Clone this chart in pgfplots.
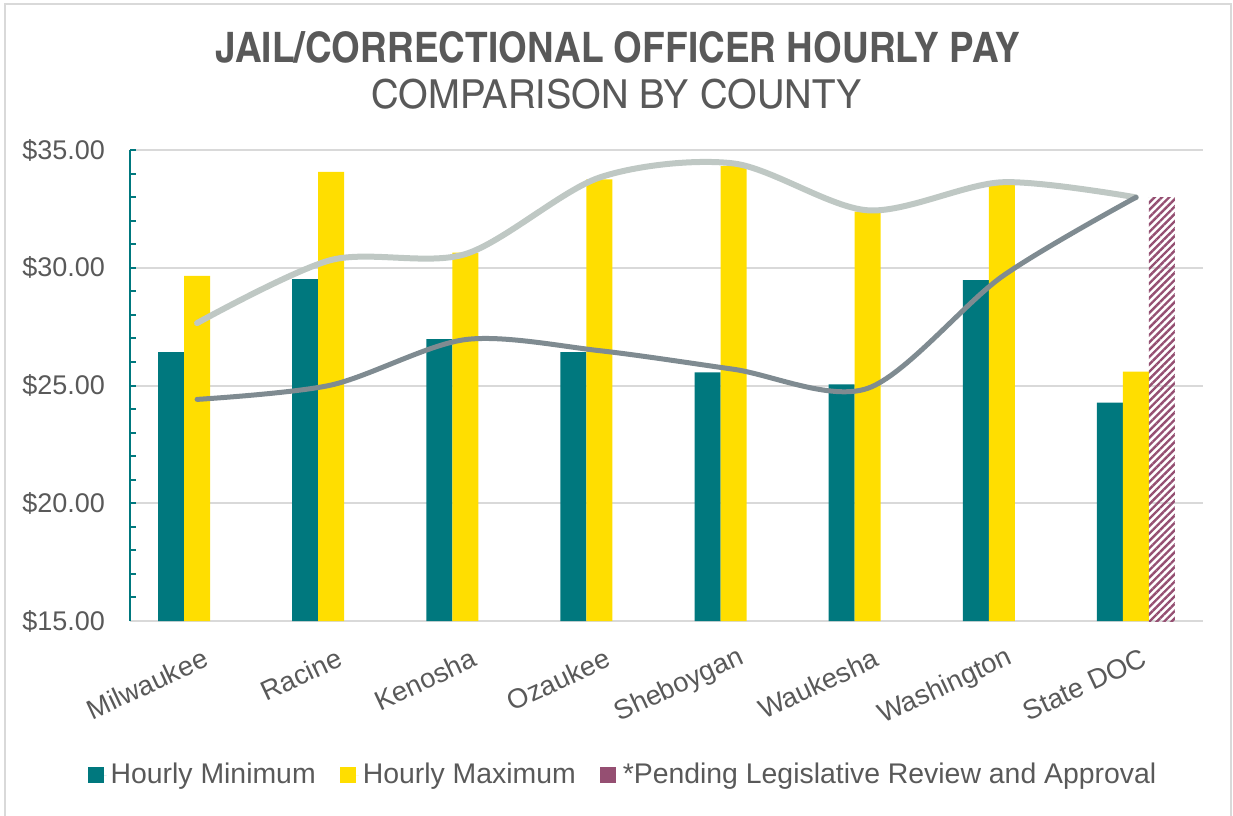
\documentclass[border=0pt]{standalone}
\usepackage{fontspec}
\setmainfont{Liberation Sans}
\newfontfamily\titlefont{texgyreheroscn}[Extension=.otf, UprightFont=*-regular, BoldFont=*-bold]
\usepackage{pgfplots}
\pgfplotsset{compat=1.18}
\usetikzlibrary{patterns.meta}
\definecolor{tealbar}{HTML}{00787E}
\definecolor{yelbar}{HTML}{FFDE00}
\definecolor{purp}{HTML}{954F72}
\definecolor{lightline}{HTML}{BFC8C4}
\definecolor{darkline}{HTML}{7F8B91}
\definecolor{txt}{HTML}{595959}
\definecolor{gridc}{HTML}{D9D9D9}
\begin{document}
\begin{tikzpicture}
\useasboundingbox (0,0) rectangle (616.5pt,-407.5pt);
\draw[gridc, line width=1pt] (2.5pt,-412pt) -- (2.5pt,-2pt) -- (615.3pt,-2pt) -- (615.3pt,-412pt);
\node[anchor=base, text=txt, font=\titlefont\bfseries\fontsize{21}{24}\selectfont] at (309pt,-31pt) {\scalebox{1.076}[1]{JAIL/CORRECTIONAL OFFICER HOURLY PAY}};
\node[anchor=base, text=txt, font=\titlefont\fontsize{20}{24}\selectfont] at (308.3pt,-54pt) {\scalebox{1.165}[1]{COMPARISON BY COUNTY}};
\begin{axis}[
  at={(65pt,-310.5pt)}, anchor=south west,
  scale only axis, width=536.5pt, height=235.5pt,
  xmin=-0.5, xmax=7.5, ymin=15, ymax=35,
  axis x line*=bottom, axis y line*=left,
  x axis line style={gridc, line width=1pt, -},
  y axis line style={tealbar, line width=1pt, -},
  xtick={0,...,7},
  xticklabels={Milwaukee,Racine,Kenosha,Ozaukee,Sheboygan,Waukesha,Washington,State DOC},
  x tick style={draw=none},
  xticklabel style={rotate=25, anchor=east, font=\fontsize{13.7}{16}\selectfont, text=txt, xshift=0pt, yshift=-18pt},
  ytick={15,20,25,30,35},
  yticklabels={\$15.00,\$20.00,\$25.00,\$30.00,\$35.00},
  minor y tick num=4,
  tick align=inside, tickpos=left,
  major tick length=3pt, minor tick length=3pt,
  y tick style={tealbar, line width=1pt},
  yticklabel style={font=\fontsize{13.5}{15}\selectfont, text=txt, xshift=-9pt},
  ymajorgrids, major grid style={gridc, line width=1pt},
  legend columns=3,
  legend style={draw=none, fill=none, at={(0.4604,-0.327)}, anchor=center,
    font=\fontsize{14.2}{16}\selectfont, text=txt,
    /tikz/every even column/.append style={column sep=10pt}},
  legend cell align=left,
]
\addplot[ybar, bar width=13pt, bar shift=-13pt, fill=tealbar, draw=none,
  legend image code/.code={\fill[tealbar] (0pt,-4pt) rectangle (8pt,4pt); \path (8pt,0pt) -- (9.5pt,0pt);}]
  coordinates {(0,26.42) (1,29.52) (2,26.97) (3,26.42) (4,25.56) (5,25.05) (6,29.48) (7,24.27)};
\addlegendentry{Hourly Minimum}
\addplot[ybar, bar width=13pt, bar shift=0pt, fill=yelbar, draw=none,
  legend image code/.code={\fill[yelbar] (0pt,-4pt) rectangle (8pt,4pt); \path (8pt,0pt) -- (9.5pt,0pt);}]
  coordinates {(0,29.66) (1,34.07) (2,30.64) (3,33.75) (4,34.33) (5,32.38) (6,33.55) (7,25.59)};
\addlegendentry{Hourly Maximum}
\addplot[ybar, bar width=13pt, bar shift=13pt, draw=none,
  pattern={Lines[angle=45, distance=2.6pt, line width=1.2pt]}, pattern color=purp,
  legend image code/.code={\fill[purp] (0pt,-4pt) rectangle (8pt,4pt); \path (8pt,0pt) -- (9.5pt,0pt);}]
  coordinates {(7,32.99)};
\addlegendentry{*Pending Legislative Review and Approval}
\addplot[lightline, line width=3pt, line cap=round, smooth, forget plot]
  coordinates {(0,27.65) (1,30.33) (2,30.58) (3,33.83) (4,34.43) (5,32.44) (6,33.63) (7,32.99)};
\addplot[darkline, line width=2.5pt, line cap=round, smooth, forget plot]
  coordinates {(0,24.41) (1,25.02) (2,26.95) (3,26.48) (4,25.69) (5,24.88) (6,29.62) (7,32.99)};
\end{axis}
\end{tikzpicture}
\end{document}
